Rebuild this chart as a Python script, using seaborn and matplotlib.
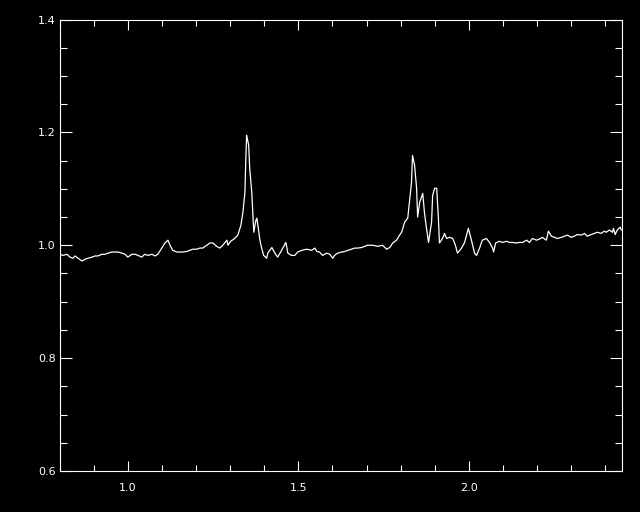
import numpy as np
import pandas as pd
import matplotlib
matplotlib.use("Agg")
import matplotlib.pyplot as plt
from matplotlib.ticker import MultipleLocator
import seaborn as sns

# spectrum
wavelength = [
    0.800, 0.809, 0.821, 0.829, 0.838, 0.844, 0.853, 0.865, 0.873, 0.882,
    0.894, 0.903, 0.911, 0.923, 0.932, 0.941, 0.952, 0.961, 0.970, 0.982,
    0.991, 0.999, 1.011, 1.020, 1.029, 1.040, 1.049, 1.058, 1.070, 1.079,
    1.087, 1.099, 1.108, 1.117, 1.123, 1.131, 1.143, 1.152, 1.161, 1.172,
    1.181, 1.190, 1.202, 1.211, 1.219, 1.231, 1.240, 1.249, 1.260, 1.269,
    1.278, 1.290, 1.293, 1.301, 1.313, 1.322, 1.331, 1.337, 1.343, 1.345,
    1.348, 1.354, 1.357, 1.363, 1.366, 1.369, 1.375, 1.378, 1.381, 1.387,
    1.392, 1.398, 1.407, 1.410, 1.422, 1.431, 1.439, 1.448, 1.463, 1.469,
    1.480, 1.489, 1.498, 1.510, 1.524, 1.539, 1.548, 1.554, 1.562, 1.571,
    1.583, 1.592, 1.601, 1.606, 1.615, 1.627, 1.636, 1.645, 1.656, 1.665,
    1.674, 1.686, 1.694, 1.703, 1.718, 1.733, 1.747, 1.759, 1.768, 1.777,
    1.788, 1.797, 1.803, 1.812, 1.821, 1.826, 1.832, 1.835, 1.841, 1.847,
    1.850, 1.856, 1.865, 1.870, 1.876, 1.882, 1.891, 1.894, 1.900, 1.906,
    1.911, 1.914, 1.923, 1.929, 1.935, 1.944, 1.953, 1.961, 1.967, 1.979,
    1.988, 1.999, 2.008, 2.017, 2.023, 2.032, 2.040, 2.052, 2.061, 2.070,
    2.073, 2.079, 2.090, 2.099, 2.111, 2.120, 2.128, 2.140, 2.149, 2.158,
    2.170, 2.178, 2.187, 2.199, 2.208, 2.216, 2.228, 2.234, 2.243, 2.252,
    2.260, 2.272, 2.281, 2.290, 2.301, 2.310, 2.319, 2.331, 2.340, 2.348,
    2.360, 2.369, 2.378, 2.389, 2.398, 2.404, 2.413, 2.422, 2.425, 2.430,
    2.436, 2.445, 2.448,
]
flux = [
    0.984, 0.982, 0.984, 0.979, 0.977, 0.981, 0.977, 0.972, 0.975, 0.977,
    0.979, 0.981, 0.981, 0.984, 0.984, 0.986, 0.988, 0.988, 0.988, 0.986,
    0.984, 0.979, 0.984, 0.984, 0.982, 0.979, 0.984, 0.982, 0.984, 0.981,
    0.984, 0.995, 1.004, 1.009, 1.000, 0.991, 0.988, 0.988, 0.988, 0.989,
    0.991, 0.993, 0.993, 0.995, 0.995, 1.000, 1.004, 1.004, 0.998, 0.995,
    1.000, 1.009, 1.000, 1.007, 1.012, 1.018, 1.035, 1.058, 1.094, 1.142,
    1.195, 1.177, 1.136, 1.094, 1.058, 1.023, 1.044, 1.048, 1.035, 1.009,
    0.995, 0.982, 0.977, 0.986, 0.996, 0.986, 0.979, 0.988, 1.005, 0.986,
    0.982, 0.982, 0.988, 0.991, 0.993, 0.991, 0.995, 0.989, 0.988, 0.982,
    0.986, 0.984, 0.977, 0.982, 0.986, 0.988, 0.989, 0.991, 0.993, 0.995,
    0.995, 0.996, 0.998, 1.000, 1.000, 0.998, 1.000, 0.993, 0.996, 1.004,
    1.009, 1.018, 1.023, 1.041, 1.048, 1.076, 1.111, 1.159, 1.142, 1.101,
    1.050, 1.076, 1.092, 1.058, 1.030, 1.005, 1.041, 1.088, 1.101, 1.101,
    1.048, 1.004, 1.012, 1.021, 1.012, 1.014, 1.012, 1.000, 0.986, 0.995,
    1.005, 1.030, 1.009, 0.986, 0.982, 0.995, 1.009, 1.012, 1.005, 0.995,
    0.988, 1.004, 1.007, 1.005, 1.007, 1.005, 1.005, 1.004, 1.005, 1.005,
    1.009, 1.005, 1.012, 1.009, 1.011, 1.014, 1.009, 1.025, 1.016, 1.014,
    1.012, 1.014, 1.016, 1.018, 1.014, 1.016, 1.019, 1.018, 1.021, 1.016,
    1.019, 1.021, 1.023, 1.021, 1.025, 1.023, 1.027, 1.023, 1.030, 1.019,
    1.027, 1.032, 1.027,
]
x_range = (0.8, 2.45)
y_range = (0.6, 1.4)
x_major, x_minor = 0.5, 0.1
y_major, y_minor = 0.2, 0.05

sns.set_theme(style="dark", rc={
    "figure.facecolor": "black",
    "axes.facecolor": "black",
    "axes.edgecolor": "white",
    "axes.linewidth": 0.8,
    "text.color": "white",
    "xtick.color": "white",
    "ytick.color": "white",
})
plt.rcParams["font.family"] = ["DejaVu Sans"]

df = pd.DataFrame({"wavelength": wavelength, "flux": flux})

fig = plt.figure(figsize=(6.4, 5.12), dpi=100)
ax = fig.add_axes([0.09375, 0.0801, 0.8781, 0.8818])

sns.lineplot(data=df, x="wavelength", y="flux", sort=False, estimator=None,
             color="white", linewidth=0.9, ax=ax)

ax.set_xlim(*x_range)
ax.set_ylim(*y_range)
ax.xaxis.set_major_locator(MultipleLocator(x_major))
ax.xaxis.set_minor_locator(MultipleLocator(x_minor))
ax.yaxis.set_major_locator(MultipleLocator(y_major))
ax.yaxis.set_minor_locator(MultipleLocator(y_minor))
ax.xaxis.set_major_formatter(lambda v, p: f"{v:.1f}")
ax.yaxis.set_major_formatter(lambda v, p: f"{v:.1f}")

ax.tick_params(axis="both", which="both", direction="in",
               bottom=True, left=True, top=True, right=True,
               colors="white", width=0.8, labelsize=8)
ax.tick_params(axis="x", which="major", length=7.2, pad=9)
ax.tick_params(axis="x", which="minor", length=4.3)
ax.tick_params(axis="y", which="major", length=8.6, pad=3)
ax.tick_params(axis="y", which="minor", length=5)
ax.set_xlabel("")
ax.set_ylabel("")
ax.grid(False)
for s in ax.spines.values():
    s.set_color("white")

fig.savefig("out.png", dpi=100, facecolor="black")
